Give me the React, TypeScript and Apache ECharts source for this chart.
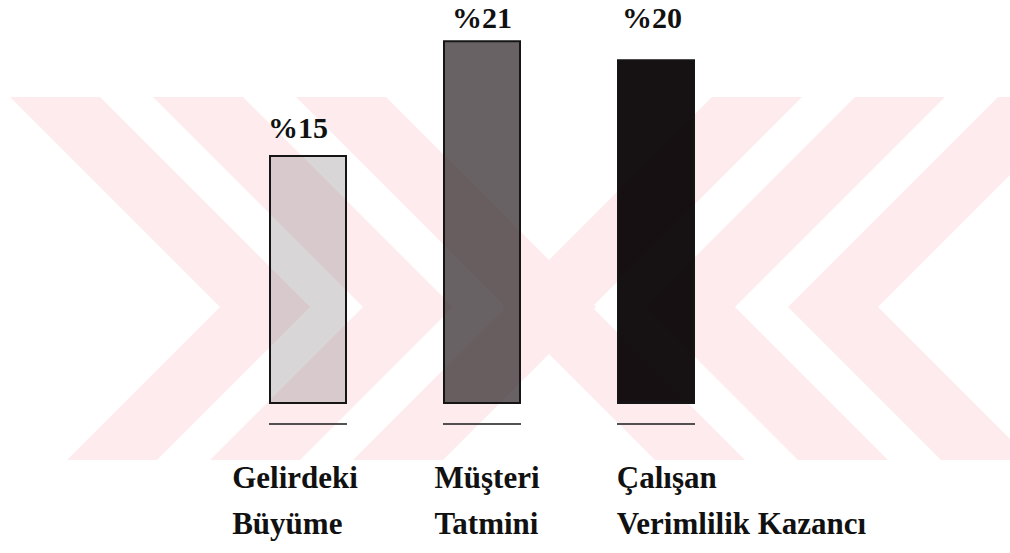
import React, { useEffect, useRef } from 'react';
import * as echarts from 'echarts';

// ---- data ----
const categories = ['Gelirdeki\nBüyüme', 'Müşteri\nTatmini', 'Çalışan\nVerimlilik Kazancı'];
const values = [15, 21, 20];
const Y_MIN = 2;
const Y_MAX = 22;

// ---- styles ----
const SERIF = "'Liberation Serif', 'Times New Roman', serif";
const BAR_WIDTH = 78;
const barColors = ['rgba(150,140,143,0.36)', 'rgba(62,54,56,0.78)', 'rgba(10,4,6,0.95)'];
const labelDistances = [13, 8, 27];
const labelOffsets = [[-10, 0], [0, 0], [-4, 0]];
const catPadding = [[0, 26, 0, 0], [0, 0, 0, 10], [0, 0, 0, 171]];
const WM_COLOR = '#fdebee';

// watermark chevrons (decoration)
function chevron(k: number, mirror: boolean) {
  const a = -87 + 143 * k;
  const b = 527 + 143 * k;
  const y0 = 97;
  const y1 = 460;
  const ya = (b - a) / 2;
  const pts = [
    [a + y0, y0],
    [a + 90 + y0, y0],
    [(a + b) / 2 + 90, ya],
    [b + 90 - y1, y1],
    [b - y1, y1],
    [(a + b) / 2, ya],
  ];
  return mirror ? pts.map(([x, y]) => [1098 - x, y]) : pts;
}

export default function App() {
  const ref = useRef<HTMLDivElement>(null);
  useEffect(() => {
    const chart = echarts.init(ref.current!, null, { renderer: 'svg' });
    const wm: any[] = [];
    for (let k = 0; k < 3; k++) {
      wm.push({ type: 'polygon', z: -10, silent: true, shape: { points: chevron(k, false) }, style: { fill: WM_COLOR } });
      wm.push({ type: 'polygon', z: -10, silent: true, shape: { points: chevron(k, true) }, style: { fill: WM_COLOR } });
    }
    const rich: any = {};
    catPadding.forEach((p, i) => {
      rich['c' + i] = {
        fontFamily: SERIF,
        fontSize: 31,
        fontWeight: 'bold',
        color: '#111',
        lineHeight: 46,
        align: 'left',
        padding: p,
      };
    });
    const option: any = {
      animation: false,
      backgroundColor: '#fff',
      graphic: { elements: wm },
      grid: { left: 221, right: 267, top: 21, bottom: 149 },
      xAxis: {
        type: 'category',
        data: categories,
        axisLine: { show: false },
        axisTick: { show: false },
        splitLine: { show: false },
        axisLabel: {
          interval: 0,
          margin: 50,
          hideOverlap: false,
          formatter: (v: string, i: number) =>
            v
              .split('\n')
              .map((s) => `{c${i}|${s}}`)
              .join('\n'),
          rich,
        },
      },
      yAxis: {
        type: 'value',
        min: Y_MIN,
        max: Y_MAX,
        startValue: Y_MIN,
        show: false,
        splitLine: { show: false },
      },
      series: [
        {
          type: 'bar',
          barWidth: BAR_WIDTH,
          clip: true,
          z: 2,
          data: values.map((v, i) => ({
            value: v,
            itemStyle: { color: barColors[i], borderColor: '#151515', borderWidth: 2 },
            label: { distance: labelDistances[i], offset: labelOffsets[i] },
          })),
          label: {
            show: true,
            position: 'top',
            formatter: (p: any) => '%' + p.value,
            fontFamily: SERIF,
            fontSize: 30,
            fontWeight: 'bold',
            color: '#111',
          },
        },
        {
          type: 'custom',
          silent: true,
          z: 3,
          data: values.map((_, i) => [i, Y_MIN]),
          renderItem: (params: any, api: any) => {
            const p = api.coord([api.value(0), api.value(1)]);
            const hw = BAR_WIDTH / 2;
            return {
              type: 'line',
              shape: { x1: p[0] - hw, y1: p[1] + 20, x2: p[0] + hw, y2: p[1] + 20 },
              style: { stroke: '#1a1a1a', lineWidth: 1.6 },
            };
          },
        },
      ],
    };
    chart.setOption(option);
    return () => chart.dispose();
  }, []);
  return (
    <div
      ref={ref}
      style={{ position: 'fixed', left: 0, top: 0, width: 1010, height: 553, background: '#fff' }}
    />
  );
}
